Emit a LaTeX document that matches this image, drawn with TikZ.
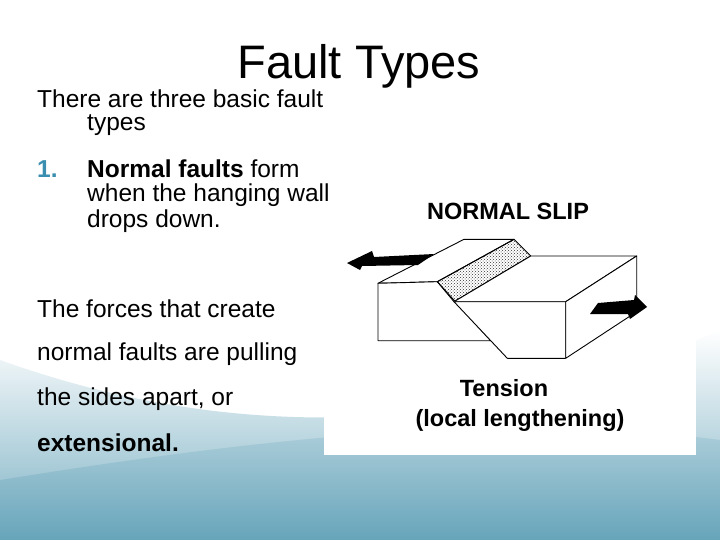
\documentclass[tikz,border=0pt]{standalone}
\usepackage{fontspec}
\setmainfont{Liberation Sans}
\usetikzlibrary{patterns}
\definecolor{seablue}{HTML}{5A9DB4}
\definecolor{numblue}{HTML}{3A8FB0}
\tikzset{
  bodytext/.style={anchor=west, inner sep=0pt, font=\fontsize{24.5}{29}\selectfont},
  figtext/.style={inner sep=0pt, font=\fontsize{23.5}{28}\selectfont\bfseries},
  blockline/.style={draw=black, line width=0.9pt, line join=round},
  forcearrow/.style={fill=black}
}
\begin{document}
\begin{tikzpicture}[x=1pt,y=-1pt]
  \useasboundingbox (0,0) rectangle (720,540);
  % background
  \fill[white] (0,0) rectangle (720,540);
  \shade[top color=white, bottom color=seablue!80]
    (0,360) .. controls (250,450) and (500,430) .. (720,330) -- (720,540) -- (0,540) -- cycle;
  \shade[top color=seablue!50, bottom color=seablue, opacity=0.6]
    (0,480) .. controls (250,440) and (500,410) .. (720,440) -- (720,540) -- (0,540) -- cycle;

  % figure panel
  \fill[white] (324,155) rectangle (696,455);
  \node[figtext] (slip) at (508,211) {NORMAL SLIP};
  \node[figtext] (tension) at (504,388) {Tension};
  \node[figtext] (lengthen) at (520,420) {(local lengthening)};

  % title and text
  \node[inner sep=0pt, font=\fontsize{47}{52}\selectfont] (title) at (359,66) {Fault Types};
  \node[bodytext] (intro1) at (37,99) {There are three basic fault};
  \node[bodytext] (intro2) at (87,125) {types};
  \node[bodytext, text=numblue, font=\fontsize{24.5}{29}\selectfont\bfseries] (num) at (37,169) {1.};
  \node[bodytext] (nf1) at (87,169) {\textbf{Normal faults} form};
  \node[bodytext] (nf2) at (87,195) {when the hanging wall};
  \node[bodytext] (nf3) at (87,221) {drops down.};
  \node[bodytext] (fc1) at (37,309) {The forces that create};
  \node[bodytext] (fc2) at (37,354) {normal faults are pulling};
  \node[bodytext] (fc3) at (37,399) {the sides apart, or};
  \node[bodytext, font=\fontsize{24.5}{29}\selectfont\bfseries] (fc4) at (37,443) {extensional.};

  % footwall block
  \draw[blockline, fill=white] (378,283.3) -- (464,239.3) -- (514,239.3) -- (437.3,281.7) -- cycle;
  \draw[blockline, fill=white] (378,283.3) -- (437.3,281.7) -- (490.7,340.7) -- (378,340.7) -- cycle;
  % fault scarp
  \draw[blockline, pattern=crosshatch dots, pattern color=black!80]
    (437.3,281.7) -- (514,239.3) -- (530.7,256) -- (454,301.7) -- cycle;
  % hanging wall block
  \draw[blockline, fill=white] (454,301.7) -- (530.7,256) -- (636.7,256) -- (565.7,301.7) -- cycle;
  \draw[blockline, fill=white] (454,301.7) -- (565.7,301.7) -- (565.7,358.3) -- (507.3,358.3) -- cycle;
  \draw[blockline, fill=white] (565.7,301.7) -- (636.7,256) -- (636.7,311.7) -- (565.7,358.3) -- cycle;

  % pulling arrows
  \fill[forcearrow] (434,254) -- (374,257) -- (372,251) -- (347,263) -- (360,270) -- (362,266) -- (418,265) -- cycle;
  \fill[forcearrow] (598,303) -- (634,300) -- (635,295) -- (647,307) -- (630,319) -- (628,314) -- (590,314) -- cycle;
\end{tikzpicture}
\end{document}
